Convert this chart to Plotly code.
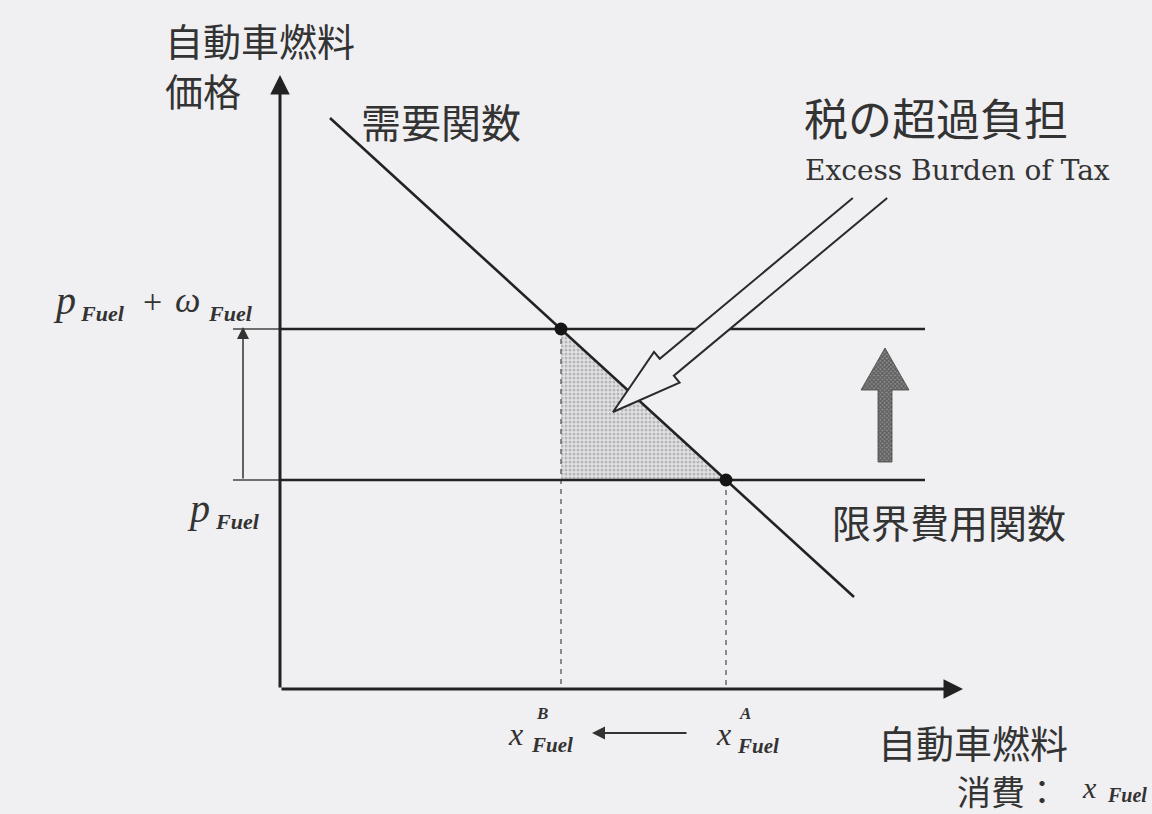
import numpy as np
import plotly.graph_objects as go

# ---------------- diagram values (price / quantity units) ----------------
price_labels = ["p_Fuel", "p_Fuel + w_Fuel"]
price_levels = [2.09, 3.60]            # p_Fuel, p_Fuel + ω_Fuel
quantity_labels = ["x^B_Fuel", "x^A_Fuel"]
quantities = [2.81, 4.46]              # x^B_Fuel (after tax), x^A_Fuel (before tax)
demand_x = [0.50, 5.74]                # demand function end points
demand_y = [5.71, 0.92]
mc_x = [0.0, 6.45]                     # marginal cost lines span
axis_x_max = 6.83
axis_y_max = 6.14
burden_arrow_tail = [5.90, 4.91]       # hollow arrow pointing at the triangle
burden_arrow_tip = [3.33, 2.77]
tax_arrow_x = 6.05                     # hatched "tax raises price" arrow
tax_arrow_y = [2.27, 3.41]

BG = "#f0eff2"
INK = "#222222"
TXT = "#333333"
JP = "Noto Sans CJK JP"
SERIF = "Liberation Serif"

# helpers converting picture layout positions to diagram units (labels only)
def X(px):
    return (px - 280) / 100.0

def Y(py):
    return (689 - py) / 100.0

fig = go.Figure()

p_lo, p_hi = price_levels
x_b, x_a = quantities

# excess-burden triangle (dotted pattern)
fig.add_trace(go.Scatter(
    x=[x_b, x_b, x_a, x_b], y=[p_hi, p_lo, p_lo, p_hi],
    mode="lines", fill="toself", line=dict(width=0),
    fillcolor="rgba(0,0,0,0)",
    fillpattern=dict(shape=".", size=4, solidity=0.45, fgcolor="#8a8a8a", bgcolor="#e2e1e4"),
    hoverinfo="skip", showlegend=False))

# dashed guides
for q, p in zip(quantities, [p_hi, p_lo]):
    fig.add_trace(go.Scatter(x=[q, q], y=[p, 0], mode="lines",
                             line=dict(color="#555", width=1.3, dash="5px,5px"),
                             hoverinfo="skip", showlegend=False))

# price lines (thin stub left of axis, thick right of axis)
for p in price_levels:
    fig.add_trace(go.Scatter(x=[X(233), 0], y=[p, p], mode="lines",
                             line=dict(color="#444", width=1.3),
                             hoverinfo="skip", showlegend=False))
    fig.add_trace(go.Scatter(x=mc_x, y=[p, p], mode="lines",
                             line=dict(color=INK, width=2.6),
                             hoverinfo="skip", showlegend=False))

# demand line
fig.add_trace(go.Scatter(x=demand_x, y=demand_y, mode="lines",
                         line=dict(color=INK, width=2.6),
                         hoverinfo="skip", showlegend=False))

# equilibrium dots
fig.add_trace(go.Scatter(x=[x_b, x_a], y=[p_hi, p_lo], mode="markers",
                         marker=dict(color="#151515", size=13),
                         hoverinfo="skip", showlegend=False))

# hollow arrow (excess burden)
tail = np.array(burden_arrow_tail)
tip = np.array(burden_arrow_tip)
u = (tip - tail) / np.linalg.norm(tip - tail)
n = np.array([u[1], -u[0]])
hs, hh, hl = 0.11, 0.20, 0.70
base = tip - u * hl

def on_tail(p0):
    s = (p0[1] - tail[1]) / u[1]
    return p0 - u * s

neckL, neckR = base + n * hs, base - n * hs
barbL, barbR = base + n * hh, base - n * hh
tailL, tailR = on_tail(neckL), on_tail(neckR)
poly = [tailL, neckL, barbL, tip, barbR, neckR, tailR]
px_ = [p[0] for p in poly]
py_ = [p[1] for p in poly]
fig.add_trace(go.Scatter(x=px_ + [px_[0]], y=py_ + [py_[0]], mode="lines", fill="toself",
                         fillcolor=BG, line=dict(width=0),
                         hoverinfo="skip", showlegend=False))
fig.add_trace(go.Scatter(x=px_, y=py_, mode="lines",
                         line=dict(color="#2a2a2a", width=2),
                         hoverinfo="skip", showlegend=False))

# hatched upward arrow
ty0, ytip = tax_arrow_y
yb = Y(390)
ths, thh = 0.07, 0.24
tx = [tax_arrow_x - ths, tax_arrow_x - ths, tax_arrow_x - thh, tax_arrow_x,
      tax_arrow_x + thh, tax_arrow_x + ths, tax_arrow_x + ths, tax_arrow_x - ths]
tyv = [ty0, yb, yb, ytip, yb, yb, ty0, ty0]
fig.add_trace(go.Scatter(x=tx, y=tyv, mode="lines", fill="toself",
                         fillcolor="#666",
                         fillpattern=dict(shape="x", size=3, solidity=0.6, fgcolor="#2a2a2a", bgcolor="#8c8c8c"),
                         line=dict(color="#444", width=0.8),
                         hoverinfo="skip", showlegend=False))

anns = []

def arrow(x, y, ax, ay, width, size, color=INK):
    anns.append(dict(x=x, y=y, ax=ax, ay=ay, xref="x", yref="y", axref="x", ayref="y",
                     text="", showarrow=True, arrowhead=2, arrowsize=size,
                     arrowwidth=width, arrowcolor=color, standoff=0, startstandoff=0))

# axes
arrow(0, axis_y_max, 0, 0, 3, 1.3)
arrow(axis_x_max, 0, 0, 0, 3, 1.3)
# tax-wedge arrow on the left
arrow(X(243), p_hi + 0.02, X(243), p_lo, 1.5, 1.6, "#333")
# quantity change arrow
arrow(X(592), Y(733), X(688), Y(733), 2, 1.3, "#333")

def text(s, px, py, size, font=JP, xanchor="left", yanchor="middle", color=TXT, align="left"):
    anns.append(dict(x=X(px), y=Y(py), xref="x", yref="y", text=s, showarrow=False,
                     xanchor=xanchor, yanchor=yanchor, align=align, borderpad=0,
                     font=dict(family=font, size=size, color=color)))

text("自動車燃料", 164, 39, 38)
text("価格", 164, 89, 38)
text("需要関数", 360, 121, 40)
text("税の超過負担", 803, 117, 44)
text("Excess Burden of Tax", 804, 170, 28, font="DejaVu Serif")
text("限界費用関数", 831, 521, 39)
text("自動車燃料", 877, 741, 38)
text("消費：", 956, 790, 34)
text("<i>x</i>", 1081, 787, 30, font=SERIF)
text("<b><i>Fuel</i></b>", 1106, 795, 20, font=SERIF)

text("<i>p</i>", 52, 300, 40, font=SERIF)
text("<b><i>Fuel</i></b>", 79, 313, 22, font=SERIF)
text("+", 142, 301, 34, font=SERIF)
text("<i>ω</i>", 174, 300, 36, font=SERIF)
text("<b><i>Fuel</i></b>", 207, 313, 22, font=SERIF)

text("<i>p</i>", 186, 508, 40, font=SERIF)
text("<b><i>Fuel</i></b>", 214, 521, 22, font=SERIF)

text("<i>x</i>", 507, 734, 32, font=SERIF)
text("<b><i>B</i></b>", 535, 713, 17, font=SERIF)
text("<b><i>Fuel</i></b>", 530, 745, 21, font=SERIF)

text("<i>x</i>", 715, 734, 32, font=SERIF)
text("<b><i>A</i></b>", 738, 713, 17, font=SERIF)
text("<b><i>Fuel</i></b>", 736, 746, 21, font=SERIF)

fig.update_layout(
    width=1152, height=814, autosize=False,
    margin=dict(l=0, r=0, t=0, b=0),
    paper_bgcolor=BG, plot_bgcolor=BG,
    xaxis=dict(range=[X(0), X(1152)], visible=False, fixedrange=True),
    yaxis=dict(range=[Y(814), Y(0)], visible=False, fixedrange=True),
    annotations=anns, showlegend=False,
)

fig.write_html(
    "out.html",
    config={"displayModeBar": False},
    post_script="document.body.style.margin='0px';document.body.style.padding='0px';"
                "document.body.style.overflow='hidden';"
                "document.body.style.background='" + BG + "';",
)
